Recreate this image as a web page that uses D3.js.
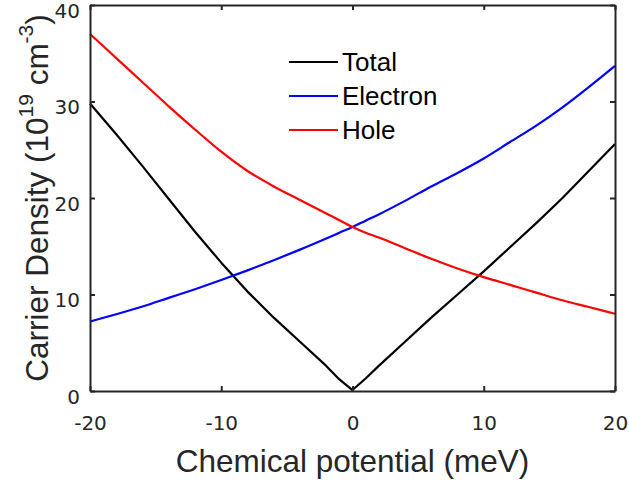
<!DOCTYPE html>
<html>
<head>
<meta charset="utf-8">
<script src="https://cdn.jsdelivr.net/npm/d3@7"></script>
<style>
  body { margin: 0; background: #fff; }
</style>
</head>
<body>
<div id="chart"></div>
<script>
// Data
var mu = [-20, -18, -16, -14, -12, -10, -8, -6, -4, -2, -1, 0, 1, 2, 4, 6, 8, 10, 12, 14, 16, 18, 20];
var electron = [7.2, 7.95, 8.75, 9.65, 10.55, 11.5, 12.5, 13.55, 14.65, 15.8, 16.4, 17.0, 17.65, 18.3, 19.7, 21.2, 22.6, 24.1, 25.8, 27.5, 29.4, 31.5, 33.7];
var hole = [37.0, 34.5, 32.0, 29.5, 27.1, 24.8, 22.8, 21.2, 19.8, 18.4, 17.7, 17.0, 16.4, 15.9, 14.8, 13.7, 12.7, 11.8, 11.0, 10.2, 9.4, 8.7, 8.0];
var total = [29.8, 26.6, 23.3, 19.9, 16.5, 13.3, 10.3, 7.6, 5.1, 2.6, 1.2, 0.1, 1.3, 2.6, 5.1, 7.6, 10.0, 12.4, 14.9, 17.4, 20.0, 22.8, 25.6];
var xTicks = [-20, -10, 0, 10, 20];
var yTicks = [0, 10, 20, 30, 40];
var seriesNames = ["Total", "Electron", "Hole"];
var seriesColors = ["#000000", "#0000ff", "#ff0000"];

var width = 629, height = 485;
var plotLeft = 90, plotRight = 615, plotTop = 5, plotBottom = 391;
var axisColor = "#262626";

var svg = d3.select("#chart").append("svg")
    .attr("width", width)
    .attr("height", height);

var xScale = d3.scaleLinear().domain([-20, 20]).range([plotLeft, plotRight]);
var yScale = d3.scaleLinear().domain([0, 40]).range([plotBottom, plotTop]);

// Lines: total keeps its sharp V, the others are smooth
var allSeries = [total, electron, hole];
var curves = [d3.curveLinear, d3.curveMonotoneX, d3.curveMonotoneX];
allSeries.forEach(function(vals, k) {
    var line = d3.line()
        .curve(curves[k])
        .x(function(d) { return xScale(d[0]); })
        .y(function(d) { return yScale(d[1]); });
    svg.append("path")
        .attr("d", line(mu.map(function(m, i) { return [m, vals[i]]; })))
        .attr("fill", "none")
        .attr("stroke", seriesColors[k])
        .attr("stroke-width", 2.2)
        .attr("stroke-linejoin", "round");
});

// Axes (ticks inward, mirrored on top/right)
var xAxisB = d3.axisBottom(xScale).tickValues(xTicks).tickSizeInner(-5).tickSizeOuter(0).tickPadding(25);
var xAxisT = d3.axisTop(xScale).tickValues(xTicks).tickSizeInner(-5).tickSizeOuter(0).tickFormat("");
var yAxisL = d3.axisLeft(yScale).tickValues(yTicks).tickSizeInner(-5).tickSizeOuter(0).tickPadding(10);
var yAxisR = d3.axisRight(yScale).tickValues(yTicks).tickSizeInner(-5).tickSizeOuter(0).tickFormat("");

var gB = svg.append("g").attr("transform", "translate(0," + plotBottom + ")").call(xAxisB);
var gT = svg.append("g").attr("transform", "translate(0," + plotTop + ")").call(xAxisT);
var gL = svg.append("g").attr("transform", "translate(" + plotLeft + ",0)").call(yAxisL);
var gR = svg.append("g").attr("transform", "translate(" + plotRight + ",0)").call(yAxisR);

[gB, gT, gL, gR].forEach(function(g) {
    g.select(".domain").attr("stroke", axisColor).attr("stroke-width", 2);
    g.selectAll(".tick line").attr("stroke", axisColor).attr("stroke-width", 2);
    g.selectAll(".tick text")
        .attr("fill", axisColor)
        .style("font-family", "DejaVu Sans")
        .style("font-size", "20px");
});
gL.selectAll(".tick text").attr("dy", "0.62em");
// hyphen minus like the original
gB.selectAll(".tick text").text(function(d) { return d < 0 ? "-" + Math.abs(d) : d; });

// Axis titles
svg.append("text")
    .attr("x", (plotLeft + plotRight) / 2)
    .attr("y", 472)
    .attr("text-anchor", "middle")
    .attr("fill", axisColor)
    .style("font-family", "Liberation Sans")
    .style("font-size", "31.5px")
    .text("Chemical potential (meV)");

var yl = svg.append("text")
    .attr("transform", "translate(48," + (plotTop + plotBottom) / 2 + ") rotate(-90)")
    .attr("text-anchor", "middle")
    .attr("fill", axisColor)
    .style("font-family", "Liberation Sans")
    .style("font-size", "31.5px");
yl.append("tspan").text("Carrier Density (10");
yl.append("tspan").attr("dy", -15).style("font-size", "21px").text("19");
yl.append("tspan").attr("dy", 15).text(" cm");
yl.append("tspan").attr("dy", -15).style("font-size", "21px").text("-3");
yl.append("tspan").attr("dy", 15).text(")");

// Legend
var legendY = [62, 96, 130];
seriesNames.forEach(function(name, k) {
    svg.append("line")
        .attr("x1", 289).attr("x2", 338)
        .attr("y1", legendY[k]).attr("y2", legendY[k])
        .attr("stroke", seriesColors[k])
        .attr("stroke-width", 2.2);
    svg.append("text")
        .attr("x", 342)
        .attr("y", legendY[k])
        .attr("dy", "0.36em")
        .attr("fill", "#000")
        .style("font-family", "Liberation Sans")
        .style("font-size", "26px")
        .text(name);
});
</script>
</body>
</html>
